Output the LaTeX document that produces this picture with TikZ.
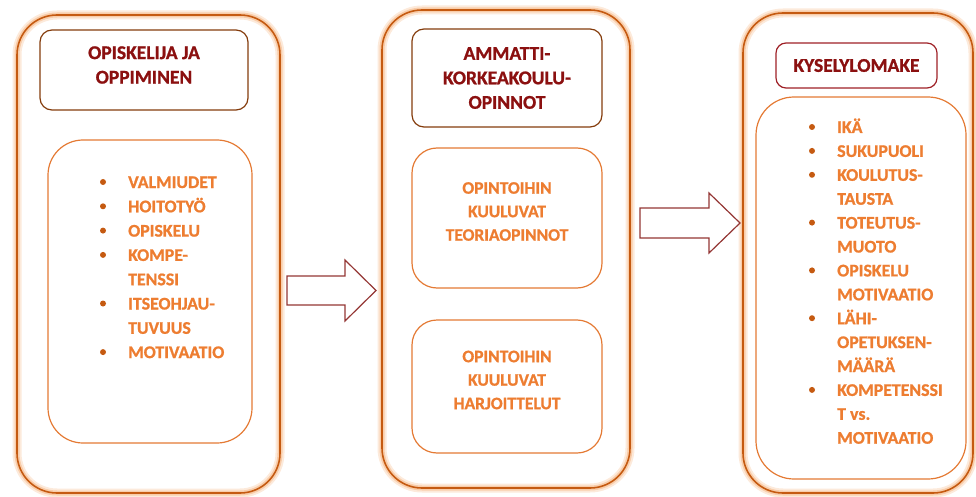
\documentclass[tikz,border=0pt]{standalone}
\usepackage{fontspec}
\setmainfont{Carlito}[BoldFont={Carlito Bold}, BoldFeatures={FakeBold=1}]
\definecolor{boxOrange}{RGB}{197,90,17}
\definecolor{glowOrange}{RGB}{244,170,110}
\definecolor{innerOrange}{RGB}{228,122,52}
\definecolor{textOrange}{RGB}{237,125,49}
\definecolor{bulletOrange}{RGB}{197,90,17}
\definecolor{titleRed}{RGB}{139,16,16}
\definecolor{titleBrown}{RGB}{132,60,12}
\definecolor{titleRedB}{RGB}{158,32,38}
\definecolor{arrowRed}{RGB}{148,54,52}
\begin{document}
\begin{tikzpicture}[
        % 像素坐标,y 轴向下
        x=1pt, y=-1pt,
        outerbox/.style={draw=boxOrange, line width=1.6pt, rounded corners=40pt,
            preaction={draw=glowOrange, line width=9pt, opacity=0.25},
            preaction={draw=glowOrange, line width=5pt, opacity=0.45}},
        titlebox/.style={draw=titleBrown, line width=1.2pt, rounded corners=12pt},
        innerbox/.style={draw=innerOrange, line width=1.2pt, rounded corners=30pt},
        titletext/.style={font=\bfseries\fontsize{19.5}{24.5}\selectfont, text=titleRed, align=center},
        midtext/.style={font=\bfseries\fontsize{17.5}{23.5}\selectfont, text=textOrange, align=center},
        listtext/.style={font=\bfseries\fontsize{17.8}{24}\selectfont, text=textOrange, anchor=base west, inner sep=0pt},
        dot/.style={circle, fill=bulletOrange, inner sep=0pt, minimum size=6pt},
        % 空心箭头
        blockarrow/.style={draw=arrowRed, fill=white, line width=1.2pt, line join=miter}
    ]
    \useasboundingbox (0,0) rectangle (976,497);

    % --- 参数定义 ---
    \def\leftX{128}     % 左栏文字起点
    \def\rightX{837}    % 右栏文字起点

    % --- 1. 三个外框 ---
    \node[outerbox, minimum width=263pt, minimum height=478pt] (col1) at (148.5,254) {};
    \node[outerbox, minimum width=248pt, minimum height=478pt] (col2) at (506,249) {};
    \node[outerbox, minimum width=230pt, minimum height=480pt] (col3) at (858,253) {};

    % --- 2. 标题框 ---
    \node[titlebox, minimum width=208pt, minimum height=80pt] (head1) at (144,70) {};
    \node[titlebox, minimum width=190pt, minimum height=98pt] (head2) at (507,78) {};
    \node[titlebox, draw=titleRedB, rounded corners=10pt, minimum width=161pt, minimum height=45pt] (head3) at (856.5,65.5) {};
    \node[titletext] (h1) at (144,65) {OPISKELIJA JA\\OPPIMINEN};
    \node[titletext] (h2) at (507,78) {AMMATTI-\\KORKEAKOULU-\\OPINNOT};
    \node[titletext] (h3) at (856.5,65.5) {KYSELYLOMAKE};

    % --- 3. 内框 ---
    \node[innerbox, rounded corners=35pt, minimum width=204pt, minimum height=303pt] (list1) at (150,291.5) {};
    \node[innerbox, rounded corners=25pt, minimum width=190pt, minimum height=140pt] (theory) at (507,218) {};
    \node[innerbox, rounded corners=25pt, minimum width=190pt, minimum height=133pt] (practice) at (507,386.5) {};
    \node[innerbox, rounded corners=38pt, minimum width=210pt, minimum height=382pt] (list3) at (861,288) {};

    \node[midtext] (t2) at (507,211.5) {OPINTOIHIN\\KUULUVAT\\TEORIAOPINNOT};
    \node[midtext] (p2) at (507,380) {OPINTOIHIN\\KUULUVAT\\HARJOITTELUT};

    % --- 4. 左栏列表 ---
    \foreach \b/\txt [count=\i from 0] in {1/VALMIUDET, 1/HOITOTYÖ, 1/OPISKELU, 1/KOMPE-, 0/TENSSI,
            1/ITSEOHJAU-, 0/TUVUUS, 1/MOTIVAATIO} {
        \pgfmathsetmacro{\yy}{182+24.3*\i}
        \node[listtext] (l\i) at (\leftX, \yy+6) {\txt};
        \ifnum\b=1 \node[dot] (ld\i) at (103, \yy) {}; \fi
    }

    % --- 5. 右栏列表 ---
    \foreach \b/\txt [count=\i from 0] in {1/IKÄ, 1/SUKUPUOLI, 1/KOULUTUS-, 0/TAUSTA, 1/TOTEUTUS-, 0/MUOTO,
            1/OPISKELU, 0/MOTIVAATIO, 1/LÄHI-, 0/OPETUKSEN-, 0/MÄÄRÄ, 1/KOMPETENSSI, 0/T vs., 0/MOTIVAATIO} {
        \pgfmathsetmacro{\yy}{127+23.9*\i}
        \node[listtext] (r\i) at (\rightX, \yy+6) {\txt};
        \ifnum\b=1 \node[dot] (rd\i) at (812, \yy) {}; \fi
    }

    % --- 6. 箭头 ---
    \coordinate (a1) at (287,290.5);
    \coordinate (a2) at (640,223);
    \draw[blockarrow] (a1) ++(0,-14.5) -- ++(58,0) -- ++(0,-16) -- ++(31,30.5)
        -- ++(-31,30.5) -- ++(0,-16) -- ++(-58,0) -- cycle;
    \draw[blockarrow] (a2) ++(0,-15) -- ++(69,0) -- ++(0,-15) -- ++(31,30)
        -- ++(-31,30) -- ++(0,-15) -- ++(-69,0) -- cycle;

\end{tikzpicture}
\end{document}
